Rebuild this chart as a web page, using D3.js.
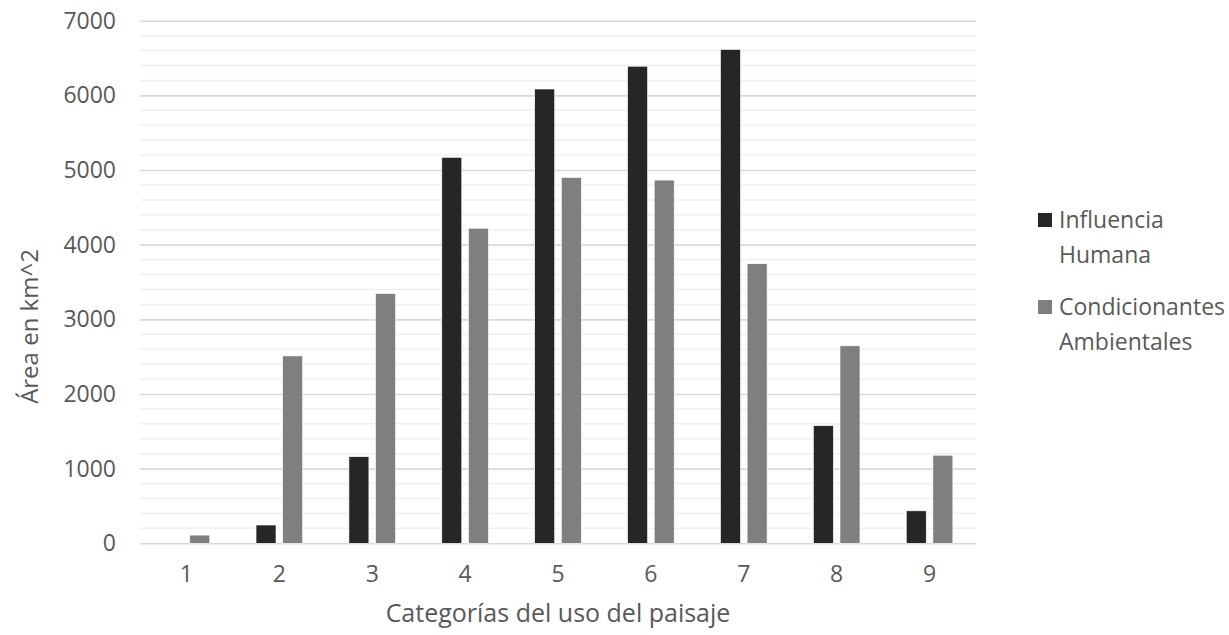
<!DOCTYPE html>
<html>
<head>
<meta charset="utf-8">
<script src="https://cdn.jsdelivr.net/npm/d3@7"></script>
<style>
  html, body { margin: 0; padding: 0; background: #fff; }
  svg { display: block; font-family: "Open Sans", "Noto Sans", sans-serif; }
  text { fill: #595959; }
</style>
</head>
<body>
<svg id="chart" width="1229" height="635"></svg>
<script>
// Land-use categories and area per category (km^2)
const categories = ["1", "2", "3", "4", "5", "6", "7", "8", "9"];
const seriesNames = ["Influencia Humana", "Condicionantes Ambientales"];
const influenciaHumana = [0, 245, 1160, 5170, 6085, 6390, 6615, 1575, 435];
const condicionantesAmbientales = [110, 2510, 3345, 4220, 4900, 4865, 3745, 2645, 1180];
const yTicks = [0, 1000, 2000, 3000, 4000, 5000, 6000, 7000];
const seriesColors = ["#262626", "#7f7f7f"];

const svg = d3.select("#chart");
const plot = { left: 140, right: 976, top: 20.7, bottom: 543.3 };

const y = d3.scaleLinear().domain([0, 7000]).range([plot.bottom, plot.top]);
const x = d3.scaleBand().domain(categories).range([plot.left, plot.right]);
const pairWidth = 46.6;
const xs = d3.scaleBand().domain([0, 1]).range([0, pairWidth]).paddingInner(0.25);

// minor gridlines every 200
const minor = d3.range(200, 7000, 200).filter(v => v % 1000 !== 0);
svg.append("g").selectAll("line").data(minor).join("line")
  .attr("x1", plot.left).attr("x2", plot.right)
  .attr("y1", d => y(d)).attr("y2", d => y(d))
  .attr("stroke", "#f0f0f0").attr("stroke-width", 1.5);

// major gridlines + y tick labels via axis
const yAxis = d3.axisLeft(y).tickValues(yTicks).tickFormat(d3.format("d"))
  .tickSize(-(plot.right - plot.left)).tickPadding(24);
const gy = svg.append("g").attr("transform", `translate(${plot.left},0)`).call(yAxis);
gy.select(".domain").remove();
gy.selectAll(".tick line").attr("stroke", "#d9d9d9").attr("stroke-width", 1.6);
gy.selectAll(".tick text").attr("font-size", 23).attr("fill", "#595959")
  .attr("font-family", "Open Sans");

// x axis labels
const xAxis = d3.axisBottom(x).tickSize(0).tickPadding(22);
const gx = svg.append("g").attr("transform", `translate(0,${plot.bottom})`).call(xAxis);
gx.select(".domain").remove();
gx.selectAll(".tick text").attr("font-size", 23).attr("fill", "#595959")
  .attr("font-family", "Open Sans");

// bars
const rows = categories.map((c, i) => ({ cat: c, values: [influenciaHumana[i], condicionantesAmbientales[i]] }));
const groups = svg.append("g").selectAll("g").data(rows).join("g")
  .attr("transform", d => `translate(${x(d.cat) + (x.bandwidth() - pairWidth) / 2},0)`);
groups.selectAll("rect").data(d => d.values.map((v, k) => ({ v, k }))).join("rect")
  .filter(d => d.v > 0)
  .attr("x", d => xs(d.k))
  .attr("width", xs.bandwidth())
  .attr("y", d => y(d.v))
  .attr("height", d => y(0) - y(d.v))
  .attr("fill", d => seriesColors[d.k])
  .attr("stroke", "#ffffff").attr("stroke-width", 0.6);

// axis titles
svg.append("text")
  .attr("transform", `translate(38,326.5) rotate(-90)`)
  .attr("text-anchor", "middle")
  .attr("font-size", 24)
  .text("Área en km^2");

svg.append("text")
  .attr("x", (plot.left + plot.right) / 2)
  .attr("y", 622)
  .attr("text-anchor", "middle")
  .attr("font-size", 25)
  .text("Categorías del uso del paisaje");

// legend
const legendLines = [["Influencia", "Humana"], ["Condicionantes", "Ambientales"]];
const legend = svg.append("g").selectAll("g").data(legendLines).join("g")
  .attr("transform", (d, i) => `translate(1038,${228 + i * 87})`);
legend.append("rect")
  .attr("x", 0).attr("y", -15).attr("width", 14).attr("height", 14)
  .attr("fill", (d, i) => seriesColors[i]);
legend.append("text")
  .attr("x", 21).attr("y", 0)
  .attr("font-size", 23)
  .selectAll("tspan").data(d => d).join("tspan")
  .attr("x", 21).attr("dy", (d, j) => j === 0 ? 0 : 35)
  .text(d => d);
</script>
</body>
</html>
